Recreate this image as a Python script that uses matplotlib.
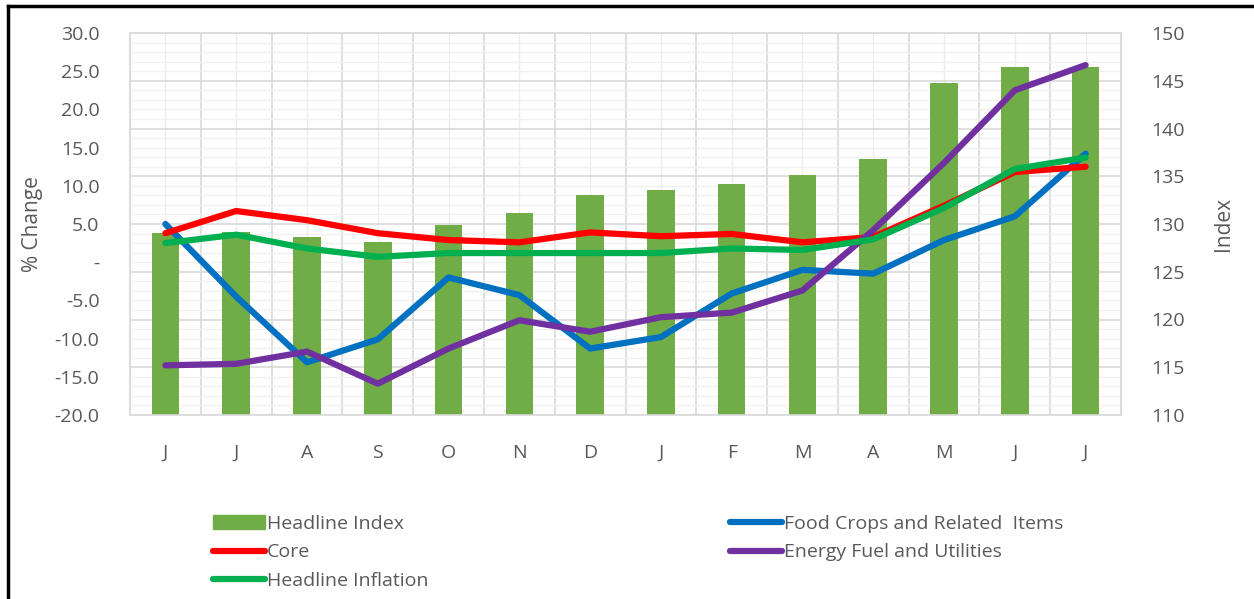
import matplotlib.pyplot as plt
from matplotlib.ticker import MultipleLocator, FixedLocator, FuncFormatter
from matplotlib.lines import Line2D
from matplotlib.patches import Patch

months = ['J', 'J', 'A', 'S', 'O', 'N', 'D', 'J', 'F', 'M', 'A', 'M', 'J', 'J']

headline_index = [129.1, 129.2, 128.6, 128.1, 129.9, 131.2, 133.0, 133.6, 134.2, 135.1, 136.8, 144.8, 146.4, 146.4]
food_crops = [5.0, -4.5, -13.1, -10.1, -2.0, -4.3, -11.3, -9.8, -4.1, -1.0, -1.5, 2.9, 6.0, 14.2]
core = [3.8, 6.7, 5.5, 3.8, 2.9, 2.6, 3.9, 3.4, 3.7, 2.6, 3.3, 7.4, 11.8, 12.5]
energy = [-13.5, -13.3, -11.7, -15.9, -11.3, -7.6, -9.1, -7.2, -6.6, -3.7, 4.2, 13.0, 22.5, 25.8]
headline_inflation = [2.5, 3.6, 1.8, 0.7, 1.2, 1.2, 1.2, 1.2, 1.8, 1.6, 3.0, 7.1, 12.2, 13.7]

txt = '#595959'
plt.rcParams['font.family'] = ['Open Sans', 'DejaVu Sans']

fig = plt.figure(figsize=(12.54, 5.99), dpi=100)
ax = fig.add_axes([130 / 1254, 1 - 415 / 599, (1121 - 130) / 1254, (415 - 33) / 599])
x = list(range(len(months)))

# bars on the index axis (drawn underneath), lines on the % change twin
ax.bar(x, headline_index, width=0.39, color='#70ad47', zorder=2)
ax.set_ylim(110, 150)
ax.set_xlim(-0.5, len(months) - 0.5)
ax.yaxis.set_major_locator(MultipleLocator(5))
ax.yaxis.set_minor_locator(MultipleLocator(1))
ax.xaxis.set_major_locator(FixedLocator(x))
ax.xaxis.set_minor_locator(FixedLocator([i + 0.5 for i in range(-1, len(months))]))
ax.set_xticklabels(months)
ax.grid(True, which='major', axis='y', color='#d9d9d9', lw=1.2, zorder=0)
ax.grid(True, which='minor', axis='y', color='#f0f0f0', lw=1.0, zorder=0)
ax.grid(True, which='minor', axis='x', color='#d9d9d9', lw=1.2, zorder=0)
ax.grid(True, which='major', axis='x', color='#ececec', lw=1.0, zorder=0)
ax.set_axisbelow(True)
for s in ax.spines.values():
    s.set_color('#d9d9d9')
    s.set_linewidth(1.2)

ax2 = ax.twinx()
lw = 4.5
ax2.plot(x, food_crops, color='#0070c0', lw=lw, solid_capstyle='round')
ax2.plot(x, core, color='#ff0000', lw=lw, solid_capstyle='round')
ax2.plot(x, energy, color='#7030a0', lw=lw, solid_capstyle='round')
ax2.plot(x, headline_inflation, color='#00b050', lw=lw, solid_capstyle='round')
ax2.set_ylim(-20, 30)
ax2.yaxis.set_major_locator(MultipleLocator(5))
ax2.yaxis.set_major_formatter(FuncFormatter(lambda v, p: '-' if abs(v) < 1e-9 else f'{v:.1f}'))
for s in ax2.spines.values():
    s.set_visible(False)

# swap sides: index on the right, % change on the left
ax.yaxis.tick_right()
ax.yaxis.set_label_position('right')
ax2.yaxis.tick_left()
ax2.yaxis.set_label_position('left')
ax.set_ylabel('Index', color=txt, fontsize=15, labelpad=20)
ax2.set_ylabel('% Change', color=txt, fontsize=15, labelpad=8)
ax.tick_params(which='both', length=0, colors=txt, labelsize=14)
ax.tick_params(axis='x', pad=21)
ax.tick_params(axis='y', pad=22)
ax2.tick_params(which='both', length=0, colors=txt, labelsize=14, pad=22)

h1 = [Patch(color='#70ad47'),
      Line2D([], [], color='#ff0000', lw=lw, solid_capstyle='round'),
      Line2D([], [], color='#00b050', lw=lw, solid_capstyle='round')]
h2 = [Line2D([], [], color='#0070c0', lw=lw, solid_capstyle='round'),
      Line2D([], [], color='#7030a0', lw=lw, solid_capstyle='round')]
kw = dict(frameon=False, fontsize=14, handlelength=2.7, handletextpad=0.1,
          labelspacing=0.55, labelcolor=txt, loc='upper left', borderaxespad=0)
fig.legend(h1, ['Headline Index', 'Core', 'Headline Inflation'],
           bbox_to_anchor=(205 / 1254, 1 - 507 / 599), **kw)
fig.legend(h2, ['Food Crops and Related  Items', 'Energy Fuel and Utilities'],
           bbox_to_anchor=(722 / 1254, 1 - 507 / 599), **kw)

# chart frame
fig.add_artist(Line2D([8 / 1254, 8 / 1254], [0, 1 - 6 / 599], color='black', lw=2.5))
fig.add_artist(Line2D([8 / 1254, 1], [1 - 6 / 599, 1 - 6 / 599], color='black', lw=2.5))

plt.savefig('out.png', dpi=100)
